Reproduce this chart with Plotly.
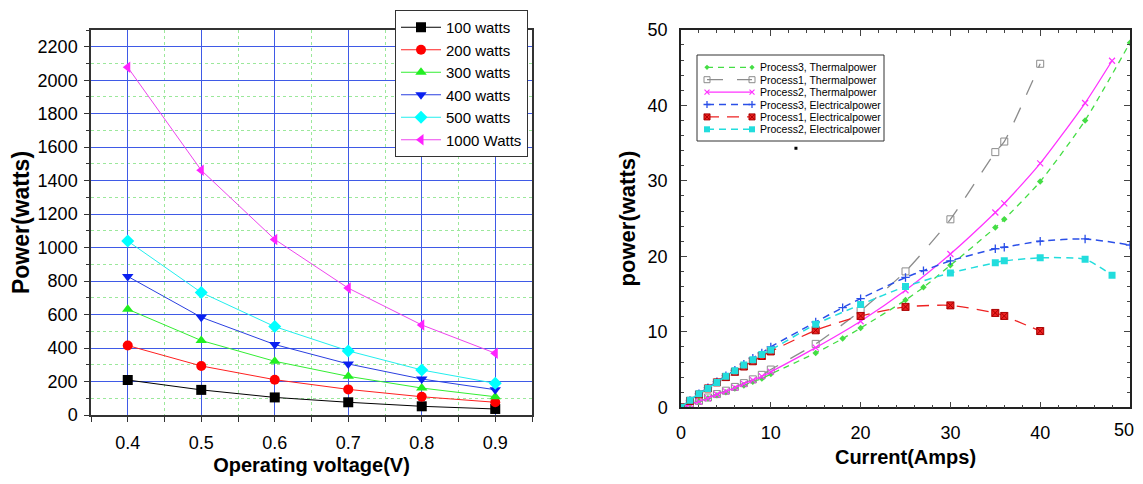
import plotly.graph_objects as go

# ---------------- Left chart data ----------------
voltage = [0.4, 0.5, 0.6, 0.7, 0.8, 0.9]
p100 = [209, 150, 105, 76, 52, 36]
p200 = [415, 293, 211, 153, 109, 76]
p300 = [632, 445, 321, 231, 161, 109]
p400 = [828, 584, 421, 305, 215, 151]
p500 = [1039, 732, 528, 383, 269, 189]
p1000 = [2077, 1462, 1049, 758, 538, 369]
left_names = ["100 watts", "200 watts", "300 watts", "400 watts", "500 watts", "1000 Watts"]

# ---------------- Right chart data ----------------
x_p3_th = [0, 1, 2, 3, 4, 5, 6, 7, 8, 9, 10, 15, 18, 20, 25, 27, 30, 35, 36, 40, 45, 50]
y_p3_th = [0, 0.4, 0.8, 1.2, 1.6, 2.0, 2.5, 2.9, 3.4, 3.8, 4.4, 7.2, 9.1, 10.5, 14.2, 15.9, 18.8, 23.8, 24.9, 29.9, 38.0, 48.3]

x_p1_th = [0, 1, 2, 3, 4, 5, 6, 7, 8, 9, 10, 15, 20, 25, 30, 35, 36, 40]
y_p1_th = [0, 0.45, 0.85, 1.3, 1.75, 2.2, 2.7, 3.2, 3.7, 4.3, 5.0, 8.4, 12.8, 18.0, 24.9, 33.8, 35.2, 45.5]

x_p2_th = [0, 1, 2, 3, 4, 5, 6, 7, 8, 9, 10, 15, 20, 25, 30, 35, 36, 40, 45, 48]
y_p2_th = [0, 0.4, 0.75, 1.2, 1.7, 2.1, 2.6, 3.1, 3.6, 4.1, 4.7, 7.9, 11.4, 15.5, 20.3, 25.8, 27.0, 32.3, 40.3, 45.9]

x_p3_el = [0, 1, 2, 3, 4, 5, 6, 7, 8, 9, 10, 15, 18, 20, 25, 27, 30, 35, 36, 40, 45, 50]
y_p3_el = [0, 0.9, 1.8, 2.6, 3.4, 4.2, 4.9, 5.7, 6.5, 7.2, 8.0, 11.3, 13.2, 14.4, 17.2, 18.1, 19.4, 21.0, 21.2, 22.0, 22.3, 21.5]

x_p1_el = [0, 1, 2, 3, 4, 5, 6, 7, 8, 9, 10, 15, 20, 25, 30, 35, 36, 40]
y_p1_el = [0, 0.85, 1.7, 2.5, 3.3, 4.0, 4.7, 5.4, 6.1, 6.8, 7.4, 10.2, 12.1, 13.3, 13.5, 12.5, 12.1, 10.1]

x_p2_el = [0, 1, 2, 3, 4, 5, 6, 7, 8, 9, 10, 15, 20, 25, 30, 35, 36, 40, 45, 48]
y_p2_el = [0, 0.95, 1.8, 2.5, 3.3, 4.1, 4.85, 5.6, 6.3, 7.0, 7.6, 11.0, 13.6, 16.0, 17.8, 19.15, 19.4, 19.8, 19.6, 17.5]

stray_x = [12.8]
stray_y = [34.3]

current_ticks = [0, 10, 20, 30, 40, 50]

right_names = ["Process3, Thermalpower", "Process1, Thermalpower", "Process2, Thermalpower",
               "Process3, Electricalpower", "Process1, Electricalpower", "Process2, Electricalpower"]

FONT = "Liberation Sans, Arial, Helvetica, sans-serif"
OFF = 8  # page body margin around the plot div
W, H = 1143 - OFF, 484 - 2 * OFF  # keep the page free of scrollbars


def pxx(p):
    return (p - OFF) / W


def pxy(p):
    return 1 - (p - OFF) / H


fig = go.Figure()

# ---------- left traces ----------
left_series = [p100, p200, p300, p400, p500, p1000]
left_styles = [
    ("#000000", "#000000", "square"),
    ("#ff2020", "#ff0000", "circle"),
    ("#33ee33", "#22ee22", "triangle-up"),
    ("#2a3fe0", "#0a20f0", "triangle-down"),
    ("#22eeee", "#00ffff", "diamond"),
    ("#ee44ee", "#ff22ff", "triangle-left"),
]
for name, ys, (lc, mc, sym) in zip(left_names, left_series, left_styles):
    fig.add_trace(go.Scatter(
        x=voltage, y=ys, name=name, mode="lines+markers",
        line=dict(color=lc, width=1),
        marker=dict(color=mc, symbol=sym, size=10, line=dict(width=0)),
        xaxis="x", yaxis="y", legend="legend"))

# ---------- right traces ----------
right_data = [(x_p3_th, y_p3_th), (x_p1_th, y_p1_th), (x_p2_th, y_p2_th),
              (x_p3_el, y_p3_el), (x_p1_el, y_p1_el), (x_p2_el, y_p2_el)]
right_styles = [
    dict(line=dict(color="#44dd44", width=1.3, dash="6px,5px"),
         marker=dict(color="#44dd44", symbol="diamond", size=5)),
    dict(line=dict(color="#8c8c8c", width=1.3, dash="16px,14px"),
         marker=dict(color="#8c8c8c", symbol="square-open", size=7, line=dict(width=1))),
    dict(line=dict(color="#ff33ff", width=1.3, dash="solid"),
         marker=dict(color="#ff33ff", symbol="x-thin-open", size=6, line=dict(width=1.2, color="#ff33ff"))),
    dict(line=dict(color="#2a4fe8", width=1.5, dash="7px,5px"),
         marker=dict(color="#2a4fe8", symbol="cross-thin-open", size=6, line=dict(width=1.3, color="#2a4fe8"))),
    dict(line=dict(color="#ee2222", width=1.3, dash="12px,8px"),
         marker=dict(color="#ee2222", symbol="square-x", size=7, line=dict(width=1, color="#aa0000"))),
    dict(line=dict(color="#22dddd", width=1.5, dash="7px,5px"),
         marker=dict(color="#22dddd", symbol="square", size=7, line=dict(width=0))),
]
for name, (xs, ys), st in zip(right_names, right_data, right_styles):
    fig.add_trace(go.Scatter(
        x=xs, y=ys, name=name, mode="lines+markers",
        line=dict(shape="spline", smoothing=0.6, **st["line"]),
        marker=st["marker"], showlegend=False,
        xaxis="x2", yaxis="y2"))

fig.add_trace(go.Scatter(x=stray_x, y=stray_y, mode="markers", showlegend=False,
                         marker=dict(color="black", symbol="square", size=3),
                         xaxis="x2", yaxis="y2", hoverinfo="skip"))

# ---------- compact legend for the right chart (drawn on a hidden helper axis in page pixels) ----------
box_l, box_r, box_t, box_b = 697, 884, 55, 141
row_y0, row_dy = 67.3, 12.4
samp_x0, samp_x1, text_x = 707, 752, 758
fig.add_trace(go.Scatter(
    x=[box_l, box_r, box_r, box_l, box_l], y=[box_t, box_t, box_b, box_b, box_t],
    mode="lines", fill="toself", fillcolor="white",
    line=dict(color="#333333", width=1), showlegend=False, hoverinfo="skip",
    xaxis="x3", yaxis="y3"))
annotations = []
for i, (name, st) in enumerate(zip(right_names, right_styles)):
    ry = row_y0 + i * row_dy
    mk = dict(st["marker"])
    mk["size"] = max(4, mk.get("size", 6) - 1)
    fig.add_trace(go.Scatter(
        x=[samp_x0, samp_x1], y=[ry, ry], mode="lines+markers",
        line=st["line"], marker=mk, showlegend=False, hoverinfo="skip",
        xaxis="x3", yaxis="y3"))
    annotations.append(dict(
        x=text_x, y=ry, xref="x3", yref="y3", text=name, showarrow=False,
        xanchor="left", yanchor="middle", font=dict(size=10.5, family=FONT, color="black")))

# last x tick label of the right chart kept inside the visible page
annotations.append(dict(
    x=1136, y=430, xref="x3", yref="y3", text=str(current_ticks[-1]), showarrow=False,
    xanchor="right", yanchor="middle", font=dict(size=18, family=FONT, color="black")))

blue_grid = "#3f5ae6"
green_grid = "#9be89b"

fig.update_layout(
    width=W, height=H,
    margin=dict(l=0, r=0, t=0, b=0),
    paper_bgcolor="white", plot_bgcolor="rgba(0,0,0,0)",
    font=dict(family=FONT, color="black"),
    annotations=annotations,
    xaxis=dict(
        domain=[pxx(91), pxx(532)], anchor="y",
        range=[0.35, 0.95], tickmode="array", tickvals=voltage,
        ticktext=[f"{v:.1f}" for v in voltage],
        showgrid=True, gridcolor=blue_grid, gridwidth=1,
        showline=True, linecolor="#333333", linewidth=1.5, mirror=True,
        ticks="outside", ticklen=5, tickcolor="#333333",
        tickfont=dict(size=18, family=FONT), ticklabelstandoff=6,
        minor=dict(dtick=0.05, tick0=0.35, showgrid=True, gridcolor=green_grid,
                   griddash="dot", ticks="outside", ticklen=5, tickcolor="#333333"),
        zeroline=False, automargin=False,
        title=dict(text="<b>Operating voltage(V)</b>", font=dict(size=20, family=FONT), standoff=6),
    ),
    yaxis=dict(
        domain=[pxy(415), pxy(30)], anchor="x",
        range=[0, 2300], dtick=200, tick0=0,
        showgrid=True, gridcolor=blue_grid, gridwidth=1,
        showline=True, linecolor="#333333", linewidth=1.5, mirror=True,
        ticks="outside", ticklen=5, tickcolor="#333333",
        tickfont=dict(size=18, family=FONT), ticklabelstandoff=3,
        minor=dict(dtick=100, showgrid=True, gridcolor=green_grid,
                   griddash="dot", ticks="outside", ticklen=3, tickcolor="#333333"),
        zeroline=False, automargin=False,
        title=dict(text="<b>Power(watts)</b>", font=dict(size=23, family=FONT), standoff=8),
    ),
    xaxis2=dict(
        domain=[pxx(681), pxx(1130)], anchor="y2",
        range=[0, 50], tickmode="array", tickvals=current_ticks,
        ticktext=[str(t) for t in current_ticks[:-1]] + [""],
        showgrid=False, showline=True, linecolor="#222222", linewidth=1.5, mirror="allticks",
        ticks="inside", ticklen=6, tickcolor="#444444",
        tickfont=dict(size=18, family=FONT), ticklabelstandoff=8,
        minor=dict(dtick=2, tick0=0, ticks="inside", ticklen=3, tickcolor="#444444"),
        zeroline=False, automargin=False,
        title=dict(text="<b>Current(Amps)</b>", font=dict(size=20, family=FONT), standoff=8),
    ),
    yaxis2=dict(
        domain=[pxy(407.3), pxy(29.8)], anchor="x2",
        range=[0, 50], dtick=10, tick0=0,
        showgrid=False, showline=True, linecolor="#222222", linewidth=1.5, mirror="allticks",
        ticks="inside", ticklen=6, tickcolor="#444444",
        tickfont=dict(size=18, family=FONT), ticklabelstandoff=8,
        minor=dict(dtick=2, ticks="inside", ticklen=3, tickcolor="#444444"),
        zeroline=False, automargin=False,
        title=dict(text="<b>power(watts)</b>", font=dict(size=22, family=FONT), standoff=6),
    ),
    xaxis3=dict(domain=[0, 1], range=[OFF, OFF + W], visible=False, fixedrange=True,
                anchor="y3", showgrid=False, zeroline=False),
    yaxis3=dict(domain=[0, 1], range=[OFF + H, OFF], visible=False, fixedrange=True,
                anchor="x3", showgrid=False, zeroline=False),
    legend=dict(
        x=pxx(395), y=pxy(10), xanchor="left", yanchor="top",
        bgcolor="white", bordercolor="#333333", borderwidth=1,
        font=dict(size=15, family=FONT), tracegroupgap=0, itemwidth=40,
    ),
    showlegend=True,
)

fig.write_html("out.html")
